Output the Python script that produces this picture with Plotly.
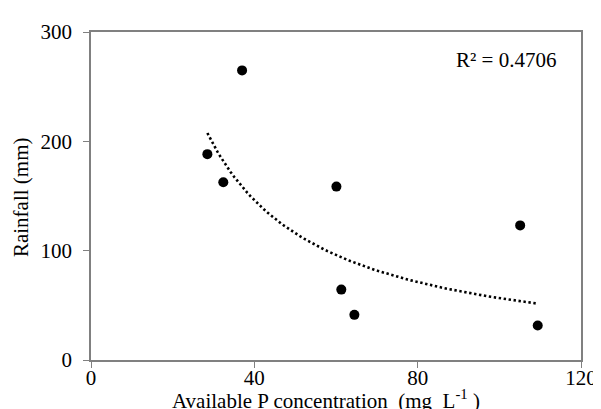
import numpy as np
import plotly.graph_objects as go

# Data
p_conc = [28.5, 32.4, 37.0, 60.1, 61.3, 64.5, 105.1, 109.4]
rainfall = [188.3, 162.5, 264.9, 158.6, 64.4, 41.3, 123.1, 31.5]
x_ticks = [0, 40, 80, 120]
y_ticks = [0, 100, 200, 300]
r2_label = "R² = 0.4706"
x_title = "Available P concentration  (mg  L<sup>-1</sup> )"
y_title = "Rainfall (mm)"

# Power trendline (y = a x^b) fitted in log space, as Excel does
lx, ly = np.log(p_conc), np.log(rainfall)
b, ln_a = np.polyfit(lx, ly, 1)
tx = np.linspace(min(p_conc), max(p_conc), 100)
ty = np.exp(ln_a) * tx ** b

FONT = "Liberation Serif"
AX = "#808080"
FS = 21

fig = go.Figure()
fig.add_trace(go.Scatter(x=tx, y=ty, mode="lines",
                         line=dict(color="black", width=2.6, dash="2.4px,2.6px"),
                         hoverinfo="skip", showlegend=False))
fig.add_trace(go.Scatter(x=p_conc, y=rainfall, mode="markers",
                         marker=dict(color="black", size=10),
                         showlegend=False))

axis_common = dict(showgrid=False, zeroline=False, showline=True, linecolor=AX,
                   linewidth=1.6, mirror=True, ticks="outside", ticklen=6,
                   tickcolor=AX, tickwidth=1.4,
                   tickfont=dict(family=FONT, size=FS, color="black"))
fig.update_xaxes(range=[0, 120], tickvals=x_ticks, ticklabelstandoff=-8, **axis_common)
fig.update_yaxes(range=[0, 300], tickvals=y_ticks, ticklabelstandoff=7, **axis_common)

fig.add_annotation(x=(322.5 - 83) / 499, y=-(392 - 352.5) / 329.5, xref="paper", yref="paper",
                   xanchor="center", yanchor="middle", text=x_title, showarrow=False,
                   font=dict(family=FONT, size=FS, color="black"))
fig.add_annotation(x=(11 - 83) / 499, y=(352.5 - 188.5) / 329.5, xref="paper", yref="paper",
                   xanchor="center", yanchor="middle", text=y_title, showarrow=False,
                   textangle=-90, font=dict(family=FONT, size=FS, color="black"))
fig.add_annotation(x=(558.5 - 83) / 499, y=(352.5 - 51) / 329.5, xref="paper", yref="paper",
                   xanchor="right", yanchor="middle", text=r2_label, showarrow=False,
                   font=dict(family=FONT, size=FS, color="black"))

fig.update_layout(width=601, height=409, plot_bgcolor="white", paper_bgcolor="white",
                  margin=dict(l=83, r=19, t=23, b=57))
fig.write_html("out.html")
